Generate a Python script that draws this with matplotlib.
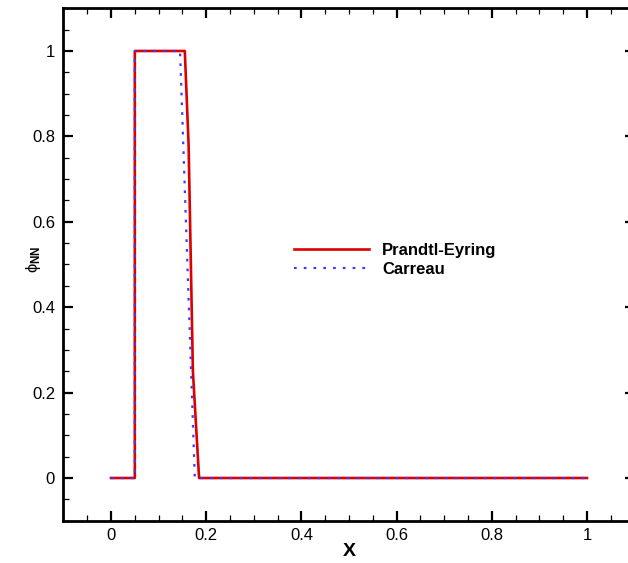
import matplotlib
matplotlib.use("Agg")
import matplotlib.pyplot as plt
from matplotlib.ticker import MultipleLocator, FuncFormatter

plt.rcParams['font.family'] = ['Liberation Sans', 'DejaVu Sans']
plt.rcParams['mathtext.fontset'] = 'custom'
plt.rcParams['mathtext.rm'] = 'Liberation Sans'
plt.rcParams['mathtext.it'] = 'Liberation Sans'
plt.rcParams['mathtext.bf'] = 'Liberation Sans:bold'

# perfil phi_NN a lo largo de X
x_pe = [0.0, 0.05, 0.05, 0.155, 0.163, 0.172, 0.185, 1.0]
phi_pe = [0.0, 0.0, 1.0, 1.0, 0.78, 0.25, 0.0, 0.0]

x_ca = [0.0, 0.05, 0.05, 0.145, 0.176, 1.0]
phi_ca = [0.0, 0.0, 1.0, 1.0, 0.0, 0.0]

etiquetas = ["Prandtl-Eyring", "Carreau"]

fig = plt.figure(figsize=(6.28, 5.63), dpi=100)
ax = fig.add_axes([0.101, 0.0751, 0.9095, 0.9102])

ax.plot(x_pe, phi_pe, color="#dd0000", lw=1.9, label=etiquetas[0])
ax.plot(x_ca, phi_ca, color="#3a3aff", lw=1.6, ls=(0, (1.2, 3.2)),
        label=etiquetas[1])

ax.set_xlim(-0.1, 1.1)
ax.set_ylim(-0.1, 1.1)

fmt = FuncFormatter(lambda v, p: f"{v:g}")
for eje in (ax.xaxis, ax.yaxis):
    eje.set_major_locator(MultipleLocator(0.2))
    eje.set_minor_locator(MultipleLocator(0.05))
    eje.set_major_formatter(fmt)

ax.tick_params(which="both", direction="in", top=True, right=True,
               labelsize=12)
ax.tick_params(which="major", length=7.5, width=1.6)
ax.tick_params(axis="x", which="major", pad=5)
ax.tick_params(axis="y", which="major", pad=6)
ax.tick_params(which="minor", length=4, width=0.9)
for s in ax.spines.values():
    s.set_linewidth(2.0)

ax.set_xlabel("X", fontsize=14, fontweight="bold", labelpad=0)
ax.set_ylabel(r"$\phi_{\mathbf{NN}}$", fontsize=12)
ax.yaxis.set_label_coords(-0.035, 0.51)

ax.legend(loc="upper left", bbox_to_anchor=(0.389, 0.558), frameon=False,
          borderpad=0, handlelength=4.5, handletextpad=0.8,
          labelspacing=0.25, prop={"weight": "bold", "size": 12})

fig.savefig("out.png", dpi=100)
